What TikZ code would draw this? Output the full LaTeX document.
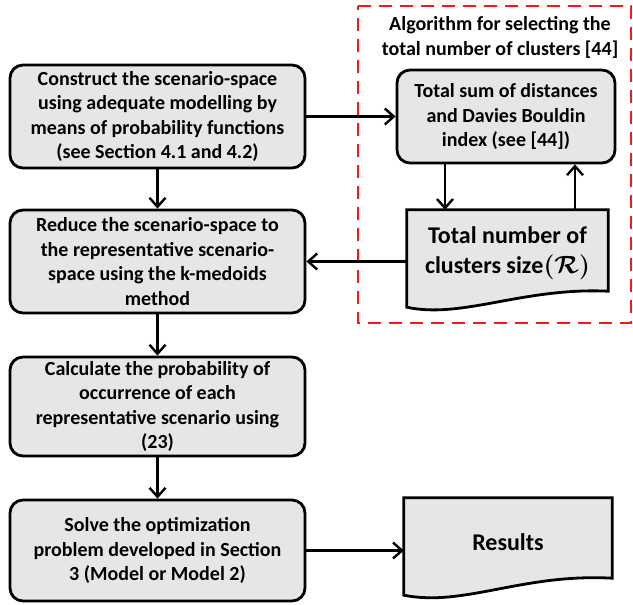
\documentclass[tikz,border=0pt]{standalone}
\usepackage{amsmath}
\usepackage{bm}
\usepackage{fontspec}
\setmainfont{Carlito}[BoldFont={Carlito Bold}]
\usetikzlibrary{arrows.meta,calc}
\definecolor{boxfill}{HTML}{E6E6E6}
\definecolor{dashred}{HTML}{EE1C1C}
\begin{document}
\begin{tikzpicture}[x=1pt,y=-1pt,
  proc/.style={draw=black,line width=2.8pt,fill=boxfill,rounded corners=13pt,
    minimum width=295pt,minimum height=103pt,align=center,inner sep=0pt,
    font=\fontsize{20}{24.5}\selectfont\bfseries},
  tsbox/.style={proc,minimum width=218pt,minimum height=93pt},
  docnode/.style={inner sep=0pt,align=center},
  docshape/.style={draw=black,line width=2.8pt,fill=boxfill,line join=miter},
  arr/.style={line width=2.8pt,-{Straight Barb[length=9pt,width=16pt,line width=2.4pt]}}
]
\useasboundingbox (0,0) rectangle (633,605);
% dashed region
\draw[dashred,line width=2.8pt,dash pattern=on 13pt off 8pt] (358,6) -- (631,6) -- (631,323) -- (358,323) -- cycle;
\node[docnode,font=\fontsize{20}{25}\selectfont\bfseries] (title) at (500,37) {Algorithm for selecting the\\total number of clusters [44]};

% main boxes
\node[proc] (b1) at (157.5,116.5) {Construct the scenario-space\\using adequate modelling by\\means of probability functions\\(see Section 4.1 and 4.2)};
\node[proc] (b2) at (157.5,261.5) {Reduce the scenario-space to\\the representative scenario-\\space using the k-medoids\\method};
\node[proc,minimum height=99pt] (b3) at (157.5,406.5) {Calculate the probability of\\occurrence of each\\representative scenario using\\(23)};
\node[proc,minimum height=101pt] (b4) at (157.5,550.5) {Solve the optimization\\problem developed in Section\\3 (Model or Model 2)};
\node[tsbox] (ts) at (506,116.5) {Total sum of distances\\and Davies Bouldin\\index (see [44])};

% document: clusters
\node[docnode,minimum width=201pt,minimum height=81pt] (cl) at (507.5,250.5) {};
\draw[docshape] (cl.north west) -- (cl.north east) -- (cl.south east)
  .. controls +(-85,-4) and +(55,12) .. ($(cl.south west)+(0,16)$) -- cycle;
\node[docnode,font=\fontsize{24}{29.5}\selectfont\bfseries] (cltext) at (507.5,253) {Total number of\\clusters $\bm{\mathrm{size}(\mathcal{R})}$};

% document: results
\node[docnode,minimum width=208pt,minimum height=80pt] (res) at (508,538) {};
\draw[docshape] (res.north west) -- (res.north east) -- (res.south east)
  .. controls +(-90,-5) and +(60,12) .. ($(res.south west)+(0,17)$) -- cycle;
\node[docnode,font=\fontsize{24}{28}\selectfont\bfseries] (restext) at (508,542) {Results};

% connectors
\draw[arr] (b1) -- (b2);
\draw[arr] (b2) -- (b3);
\draw[arr] (b3) -- (b4);
\draw[arr] (b4.east) -- (b4.east -| res.west);
\draw[arr] (b1.east) -- (ts.west);
\draw[arr] (b2.east -| cl.west) -- (b2.east);
\draw[arr] (ts.south -| 445,0) -- (cl.north -| 445,0);
\draw[arr] (cl.north -| 575,0) -- (ts.south -| 575,0);
\end{tikzpicture}
\end{document}
